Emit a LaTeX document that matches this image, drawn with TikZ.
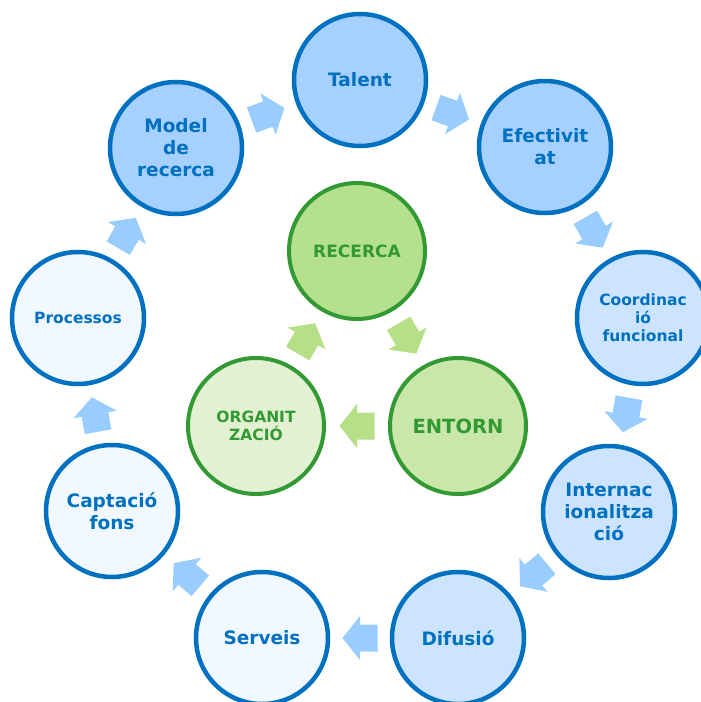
\documentclass[tikz,border=0pt]{standalone}
\usepackage{fontspec}
\setmainfont{DejaVu Sans}
\usetikzlibrary{calc}
\definecolor{bstroke}{RGB}{0,112,192}
\definecolor{bfillA}{RGB}{166,208,255}
\definecolor{bfillB}{RGB}{204,228,255}
\definecolor{bfillC}{RGB}{242,248,255}
\definecolor{barrowc}{RGB}{153,204,255}
\definecolor{gstroke}{RGB}{51,153,51}
\definecolor{gfillA}{RGB}{181,224,140}
\definecolor{gfillB}{RGB}{201,231,170}
\definecolor{gfillC}{RGB}{225,241,209}
\definecolor{garrowc}{RGB}{181,224,136}
\newcommand\blockarr[3]{%
  \pgfmathanglebetweenpoints{\pgfpointanchor{#2}{center}}{\pgfpointanchor{#3}{center}}%
  \let\arrang\pgfmathresult
  \begin{scope}[shift={($(#2)!0.5!(#3)$)}, rotate=\arrang]
    \fill[#1] (-17.5,-13.5) -- (0,-13.5) -- (0,-22) -- (17.5,0) -- (0,22) -- (0,13.5) -- (-17.5,13.5) -- cycle;
  \end{scope}}
\tikzset{
  outercirc/.style={circle, draw=bstroke, line width=4.5pt, minimum size=132pt, inner sep=0pt,
    text=bstroke, font=\bfseries\fontsize{18.5}{22}\selectfont, align=center},
  smalltext/.style={font=\bfseries\fontsize{15.5}{18}\selectfont},
  innercirc/.style={circle, draw=gstroke, line width=4pt, minimum size=136pt, inner sep=0pt,
    text=gstroke, font=\bfseries\fontsize{17}{19}\selectfont, align=center},
}
\begin{document}
\begin{tikzpicture}[x=1pt, y=-1pt]
\useasboundingbox (0,0) rectangle (701,702);
% outer ring
\node[outercirc, fill=bfillA] (talent) at (360,80) {Talent};
\node[outercirc, fill=bfillA] (efect) at (545,147) {Efectivit\\at};
\node[outercirc, fill=bfillB, smalltext] (coord) at (643,318) {Coordinac\\ió\\funcional};
\node[outercirc, fill=bfillB] (intern) at (609,512) {Internac\\ionalitza\\ció};
\node[outercirc, fill=bfillB] (difus) at (458,638) {Difusió};
\node[outercirc, fill=bfillC] (serveis) at (262,638) {Serveis};
\node[outercirc, fill=bfillC] (capt) at (112,511) {Captació\\fons};
\node[outercirc, fill=bfillC, smalltext] (proc) at (78,318) {Processos};
\node[outercirc, fill=bfillA] (model) at (176,148) {Model\\de\\recerca};
% inner
\node[innercirc, fill=gfillA] (recerca) at (357,251) {RECERCA};
\node[innercirc, fill=gfillB, font=\bfseries\fontsize{19.5}{22}\selectfont] (entorn) at (458,426) {ENTORN};
\node[innercirc, fill=gfillC, font=\bfseries\fontsize{15.5}{18.3}\selectfont] (organ) at (256,426) {ORGANIT\\ZACIÓ};
% outer arrows
\blockarr{barrowc}{talent}{efect}
\blockarr{barrowc}{efect}{coord}
\blockarr{barrowc}{coord}{intern}
\blockarr{barrowc}{intern}{difus}
\blockarr{barrowc}{difus}{serveis}
\blockarr{barrowc}{serveis}{capt}
\blockarr{barrowc}{capt}{proc}
\blockarr{barrowc}{proc}{model}
\blockarr{barrowc}{model}{talent}
% inner arrows
\blockarr{garrowc}{recerca}{entorn}
\blockarr{garrowc}{entorn}{organ}
\blockarr{garrowc}{organ}{recerca}
\end{tikzpicture}
\end{document}
